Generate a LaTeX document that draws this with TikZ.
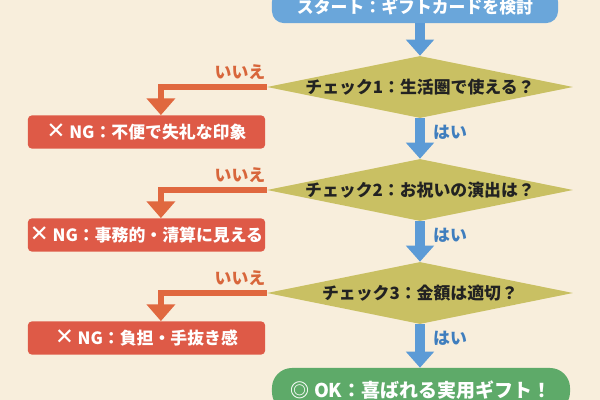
\documentclass[tikz,border=0pt]{standalone}
\usepackage{fontspec}
\setmainfont{Noto Sans CJK JP}
\newfontfamily\symfont{DejaVu Sans}
\usetikzlibrary{arrows.meta, shapes.geometric}
\definecolor{giftBg}{HTML}{F8EEDC}
\definecolor{giftBlue}{HTML}{6AA6DA}
\definecolor{giftArrow}{HTML}{5C9BD6}
\definecolor{giftYes}{HTML}{3F7EBE}
\definecolor{giftOlive}{HTML}{C9C063}
\definecolor{giftInk}{HTML}{222222}
\definecolor{giftRed}{HTML}{DE5A47}
\definecolor{giftOrange}{HTML}{E0683F}
\definecolor{giftNo}{HTML}{D8663B}
\definecolor{giftGreen}{HTML}{5EAA69}
\newcommand{\ngmark}{{\symfont\bfseries\fontsize{16}{14}\selectfont ✕}}

\begin{document}
\begin{tikzpicture}[
  x=0.025cm, y=-0.025cm,
  font=\fontsize{12}{14}\selectfont\bfseries,
  startbox/.style={fill=giftBlue, text=white, rounded corners=3mm,
                   minimum width=7.15cm, minimum height=0.83cm, inner sep=0pt},
  check/.style={diamond, fill=giftOlive, minimum width=7.65cm,
                minimum height=1.55cm, inner sep=0pt},
  qtext/.style={text=giftInk, inner sep=0pt},
  ngbox/.style={fill=giftRed, text=white, rounded corners=1mm,
                minimum width=5.93cm, minimum height=0.83cm, inner sep=0pt},
  okbox/.style={fill=giftGreen, text=white, rounded corners=5mm,
                minimum width=7.45cm, minimum height=1.1cm, inner sep=0pt,
                font=\fontsize{13.5}{16}\selectfont\bfseries},
  yesarrow/.style={draw=giftArrow, line width=0.25cm,
                   -{Triangle[width=0.68cm, length=0.4cm]}},
  noarrow/.style={draw=giftOrange, line width=0.15cm,
                  -{Triangle[width=0.7cm, length=0.42cm]}},
  yeslbl/.style={text=giftYes, inner sep=0pt},
  nolbl/.style={text=giftNo, inner sep=0pt},
]
\useasboundingbox (0,0) rectangle (600,400);
\fill[giftBg] (0,0) rectangle (600,400);

% ============================== main column ==================================
\node[startbox] (start) at (415,6.5) {スタート：ギフトカードを検討};

% Each check sends its "no" to the left, onto a red box below its tip.
\foreach \i/\y/\q/\ng in {1/87/生活圏で使える？/不便で失礼な印象,
                          2/190/お祝いの演出は？/事務的・清算に見える,
                          3/293/金額は適切？/負担・手抜き感} {
  \node[check, label={[qtext]center:チェック\i：\q}] (c\i) at (420,\y) {};
  \node[ngbox] (ng\i) at (146.5,\y+45) {\ngmark\ NG：\ng};
  \node[nolbl] (no\i) at (240,\y-15) {いいえ};
  \node[yeslbl] (yes\i) at (450,\y+45) {はい};
  \draw[noarrow] (c\i.west) -| ([xshift=0.36cm]ng\i.north);
}

\node[okbox] (ok) at (421,390) {◎ OK：喜ばれる実用ギフト！};

% --- the "yes" path straight down ---
\draw[yesarrow] (start.south -| c1.north) -- (c1.north);
\draw[yesarrow] (c1.south) -- (c2.north);
\draw[yesarrow] (c2.south) -- (c3.north);
\draw[yesarrow] (c3.south) -- (ok.north -| c3.south);
\end{tikzpicture}
\end{document}
